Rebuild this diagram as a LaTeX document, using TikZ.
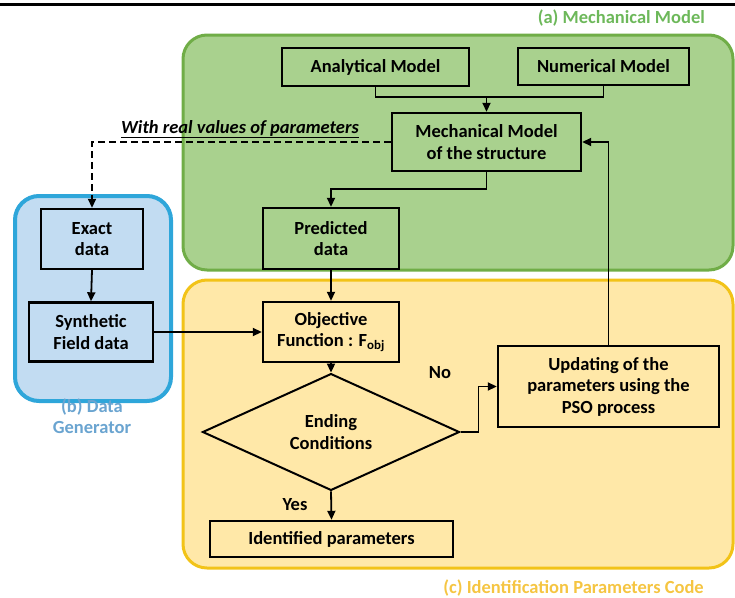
\documentclass[tikz,border=0pt]{standalone}
\usepackage{fontspec}
\setmainfont{Carlito}
\usetikzlibrary{arrows.meta,shapes.geometric}
\definecolor{mechfill}{HTML}{A9D18E}
\definecolor{mechline}{HTML}{70AD47}
\definecolor{mechtext}{HTML}{6DB85A}
\definecolor{genfill}{HTML}{C2DCF2}
\definecolor{genline}{HTML}{2EA6DA}
\definecolor{gentext}{HTML}{6AA4D0}
\definecolor{idfill}{HTML}{FFE8A8}
\definecolor{idline}{HTML}{F2C318}
\definecolor{idtext}{HTML}{F5C542}
\tikzset{
  box/.style={draw=black, line width=2.4pt, align=center, inner sep=0pt,
    font=\bfseries\fontsize{18.5}{21.5}\selectfont},
  cond/.style={box, diamond, line width=2pt},
  word/.style={inner sep=0pt, font=\bfseries\fontsize{18.5}{21.5}\selectfont},
  zone/.style={line width=3pt, rounded corners=24pt},
  tag/.style={inner sep=0pt, align=center, font=\bfseries\fontsize{18.5}{20.5}\selectfont},
  flow/.style={line width=1.8pt, -{Triangle[length=9pt,width=8pt]}},
}
\begin{document}
\begin{tikzpicture}[x=1pt,y=-1pt]
  \useasboundingbox (0,0) rectangle (735,597);
  \draw[line width=3pt] (0,4) -- (735,4);
  % zones
  \draw[zone, draw=mechline, fill=mechfill] (183,35) rectangle (733,270);
  \draw[zone, draw=genline, fill=genfill, line width=4pt] (15,196) rectangle (171,401);
  \draw[zone, draw=idline, fill=idfill] (183,280) rectangle (733,568);
  \draw
    (705,18) node[tag, text=mechtext, anchor=east] (tagmech) {(a) Mechanical Model}
    (92,416) node[tag, text=gentext] (taggen) {(b) Data\\Generator}
    (704,588) node[tag, text=idtext, anchor=east] (tagid) {(c) Identification Parameters Code};
  % blocks
  \draw
    (375.5,67) node[box, minimum width=187pt, minimum height=38pt] (ana) {Analytical Model}
    (603.5,66.5) node[box, minimum width=171pt, minimum height=37pt] (num) {Numerical Model}
    (486.5,142) node[box, minimum width=189pt, minimum height=58pt] (mech) {Mechanical Model\\of the structure}
    (331,238.5) node[box, minimum width=136pt, minimum height=61pt] (pred) {Predicted\\data}
    (331,332) node[box, minimum width=136pt, minimum height=60pt] (obj) {Objective\\Function : F\textsubscript{obj}}
    (92,239) node[box, minimum width=102pt, minimum height=60pt] (exact) {Exact\\data}
    (91,332) node[box, minimum width=124pt, minimum height=59pt] (synth) {Synthetic\\Field data}
    (331,432) node[cond, minimum width=257pt, minimum height=88pt] (ending) {Ending\\Conditions}
    (608.5,386.5) node[box, minimum width=221pt, minimum height=81pt] (upd) {Updating of the\\parameters using the\\PSO process}
    (331.5,539) node[box, minimum width=243pt, minimum height=36pt] (ident) {Identified parameters};
  \draw
    (240,129) node[word, font=\bfseries\itshape\fontsize{18.5}{21.5}\selectfont] (real) {\underline{With real values of parameters}}
    (440,373) node[word] (no) {No}
    (295,505) node[word] (yes) {Yes};
  \coordinate (join) at (486.5,97);
  \draw[line width=1.8pt] (ana.south) |- (join) -| (num.south);
  \begin{scope}[flow]
    \draw (join) -- (mech.north);
    \draw (mech.south) -- ++(0,17) -| (pred.north);
    \draw[dash pattern=on 7pt off 4pt] (mech.west) -| (exact.north);
    \draw (exact.south) -- (synth.north);
    \draw (synth.east) -- (obj.west);
    \draw (pred.south) -- (obj.north);
    \draw (obj.south) -- (ending.north);
    \draw (ending.east) -- ++(18,0) |- (upd.west);
    \draw (upd.north) |- (mech.east);
    \draw (ending.south) -- (ident.north);
  \end{scope}
\end{tikzpicture}
\end{document}
